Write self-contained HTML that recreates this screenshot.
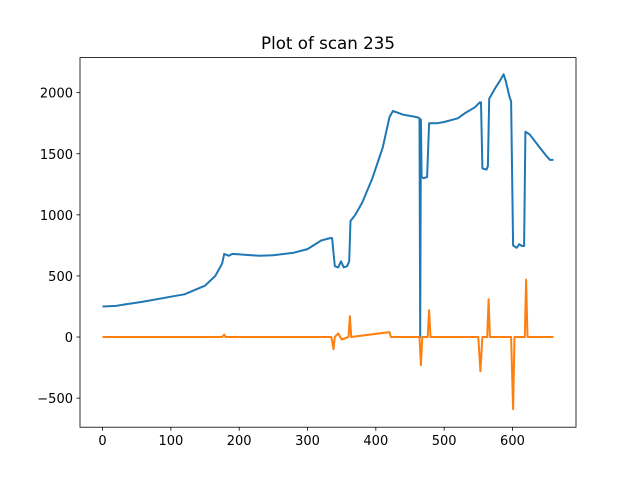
<!DOCTYPE html>
<html><head><meta charset="utf-8"><style>
body{margin:0;background:#fff}
svg{display:block;font-family:"DejaVu Sans","Liberation Sans",sans-serif}
</style></head><body>
<svg id="chart" width="640" height="480">
<rect width="640" height="480" fill="#fff"/>
<text x="328" y="49" text-anchor="middle" font-size="16.7">Plot of scan 235</text>
<g id="plot"></g>
<rect x="80" y="57.6" width="496" height="369.6" fill="none" stroke="#000" stroke-width="0.8"/>
<g id="axes"></g>
</svg>
<script>
const xTicks=[0,100,200,300,400,500,600];
const yTicks=[-500,0,500,1000,1500,2000];
const blueX=[0,20,30,60,100,120,150,165,175,178,185,190,230,250,280,300,320,333,336,340,345,349,353,358,361,363,370,380,395,410,420,425,430,440,460,464,465,466,467,470,475,478,490,500,520,530,545,552,554,556,562,564,566,575,582,587,590,596,598,601,606,610,614,617,619,625,640,650,655,660];
const blueY=[250,255,265,290,330,350,420,500,600,680,665,680,665,670,690,720,790,810,810,580,570,620,570,580,620,950,1000,1100,1300,1550,1800,1850,1840,1820,1800,1790,0,1780,1310,1300,1310,1750,1750,1760,1790,1830,1880,1920,1920,1380,1370,1400,1950,2040,2100,2150,2100,1960,1930,750,730,760,745,745,1680,1660,1550,1480,1450,1450];
const orangeX=[0,175,178,180,335,338,340,345,350,360,362,364,420,422,464,466,468,476,478,480,550,553,556,563,565,567,598,601,603,618,620,622,660];
const orangeY=[0,0,20,0,0,-100,0,30,-20,0,170,0,40,0,0,-230,0,0,220,0,0,-280,0,0,310,0,0,-590,0,0,470,0,0];
const X0=80,X1=576,Y0=427.2,Y1=57.6,xmin=-33,xmax=693,ymin=-738,ymax=2287;
const sx=v=>X0+(v-xmin)/(xmax-xmin)*(X1-X0);
const sy=v=>Y0-(v-ymin)/(ymax-ymin)*(Y0-Y1);
const NS="http://www.w3.org/2000/svg";
const plot=document.getElementById('plot'),axes=document.getElementById('axes');
function line(xs,ys,color,name){
  const p=document.createElementNS(NS,'path');
  p.setAttribute('d',xs.map((x,i)=>(i?'L':'M')+sx(x).toFixed(1)+','+sy(ys[i]).toFixed(1)).join(''));
  p.setAttribute('fill','none');p.setAttribute('stroke',color);p.setAttribute('stroke-width','2');
  p.setAttribute('stroke-linejoin','round');
  
  
  plot.appendChild(p);
}
line(blueX,blueY,'#1f77b4','series-blue');
line(orangeX,orangeY,'#ff7f0e','series-orange');
xTicks.forEach(t=>{
  const x=sx(t);
  const l=document.createElementNS(NS,'line');
  l.setAttribute('x1',x);l.setAttribute('x2',x);l.setAttribute('y1',Y0);l.setAttribute('y2',Y0+3.5);
  l.setAttribute('stroke','#000');l.setAttribute('stroke-width','0.8');
  
  
  axes.appendChild(l);
  const tx=document.createElementNS(NS,'text');
  tx.setAttribute('x',x);tx.setAttribute('y',Y0+18);tx.setAttribute('text-anchor','middle');tx.setAttribute('font-size','13');
  tx.textContent=t;
  
  
  axes.appendChild(tx);
});
yTicks.forEach(t=>{
  const y=sy(t);
  const l=document.createElementNS(NS,'line');
  l.setAttribute('x1',X0-3.5);l.setAttribute('x2',X0);l.setAttribute('y1',y);l.setAttribute('y2',y);
  l.setAttribute('stroke','#000');l.setAttribute('stroke-width','0.8');
  
  
  axes.appendChild(l);
  const tx=document.createElementNS(NS,'text');
  tx.setAttribute('x',X0-7);tx.setAttribute('y',y+5);tx.setAttribute('text-anchor','end');tx.setAttribute('font-size','13');
  tx.textContent=t<0?'\u2212'+(-t):t;
  
  
  axes.appendChild(tx);
});
</script>
</body></html>
